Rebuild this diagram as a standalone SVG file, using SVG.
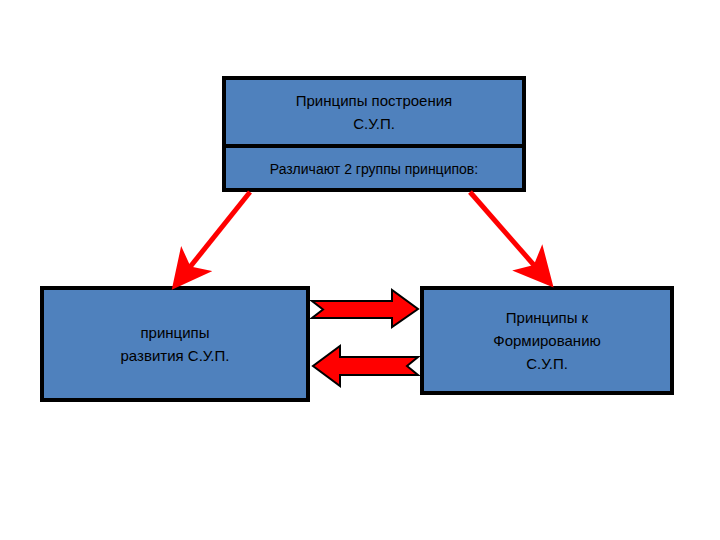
<svg xmlns="http://www.w3.org/2000/svg" width="720" height="540" viewBox="0 0 720 540">
<style>
.box{fill:#4f81bd;stroke:#000;stroke-width:4}
.t{font-family:"Liberation Sans",Arial,sans-serif;font-size:15px;fill:#000;text-anchor:middle}
.big{fill:#f00;stroke:#000;stroke-width:2}
</style>
<defs><marker id="ah" markerWidth="8" markerHeight="8" refX="6" refY="4" orient="auto" markerUnits="strokeWidth"><path d="M0,0 L8,4 L0,8 L2,4 z" fill="#f00"/></marker></defs>
<rect width="720" height="540" fill="#fff"/>
<g id="top">
<rect class="box" x="224" y="78" width="300" height="112"/>
<line x1="224" y1="146" x2="524" y2="146" stroke="#000" stroke-width="4"/>
<text class="t" x="374" y="106">Принципы построения</text>
<text class="t" x="374" y="129">С.У.П.</text>
<text class="t" x="374" y="174" style="font-size:14px">Различают 2 группы принципов:</text>
</g>
<g id="left">
<rect class="box" x="42" y="288" width="266" height="112"/>
<text class="t" x="175" y="338">принципы</text>
<text class="t" x="175" y="361">развития С.У.П.</text>
</g>
<g id="right">
<rect class="box" x="422" y="288" width="250" height="105"/>
<text class="t" x="547" y="323">Принципы к</text>
<text class="t" x="547" y="346">Формированию</text>
<text class="t" x="547" y="369">С.У.П.</text>
</g>
<g id="connectors">
<line x1="250" y1="192" x2="178" y2="282" stroke="#f00" stroke-width="5" marker-end="url(#ah)"/>
<line x1="470" y1="192" x2="547" y2="280" stroke="#f00" stroke-width="5" marker-end="url(#ah)"/>
<polygon class="big" points="312,301 392,301 392,290 418,309 392,327 392,318 312,318 323,309.5"/>
<polygon class="big" points="418,357 340,357 340,346 313,366 340,386 340,375 418,375 407,366"/>
</g>
</svg>
